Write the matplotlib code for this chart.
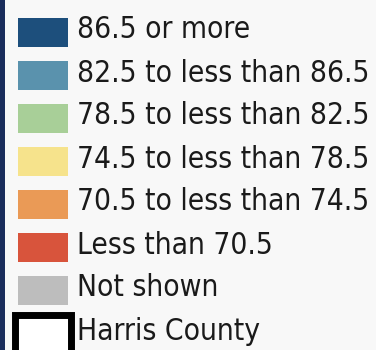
import matplotlib.pyplot as plt
from matplotlib.patches import Rectangle

# Legend entries.
LABELS = [
    "86.5 or more",
    "82.5 to less than 86.5",
    "78.5 to less than 82.5",
    "74.5 to less than 78.5",
    "70.5 to less than 74.5",
    "Less than 70.5",
    "Not shown",
    "Harris County",
]
COLORS = [
    "#1d4f7c",
    "#5a92ad",
    "#a8cf98",
    "#f6e38c",
    "#ea9a56",
    "#d8543c",
    "#bdbdbd",
    "white",
]


def plot_legend() -> None:
    fig = plt.figure(figsize=(3.76, 3.5), dpi=100)
    fig.patch.set_facecolor("#f8f8f8")
    ax = fig.add_axes([0, 0, 1, 1])
    ax.set_xlim(0, 376)
    ax.set_ylim(350, 0)
    ax.axis("off")

    # Navy strip on the left edge.
    ax.add_patch(Rectangle((0, 0), 5, 350, facecolor="#1a2d5c", edgecolor="none"))

    texts = []
    for i, (label, color) in enumerate(zip(LABELS, COLORS)):
        yc = 32 + 43 * i
        if label == "Harris County":
            ax.add_patch(Rectangle((15, yc - 18), 56, 40, facecolor=color,
                                   edgecolor="black", linewidth=5))
        else:
            ax.add_patch(Rectangle((18, yc - 14), 50, 29, facecolor=color,
                                   edgecolor="none"))
        t = ax.text(77, yc - 2, label, fontsize=20, va="center", ha="left",
                    color="#1a1a1a", family="DejaVu Sans", fontstretch="condensed")
        texts.append(t)

    # Scale the type so the longest label spans the same width as the original.
    r = fig.canvas.get_renderer()
    w = max(t.get_window_extent(r).width for t in texts)
    size = 20 * min(1.08, 292 / w)
    for t in texts:
        t.set_fontsize(size)

    plt.savefig("out.png", dpi=100)
    plt.close()


if __name__ == "__main__":
    plot_legend()
